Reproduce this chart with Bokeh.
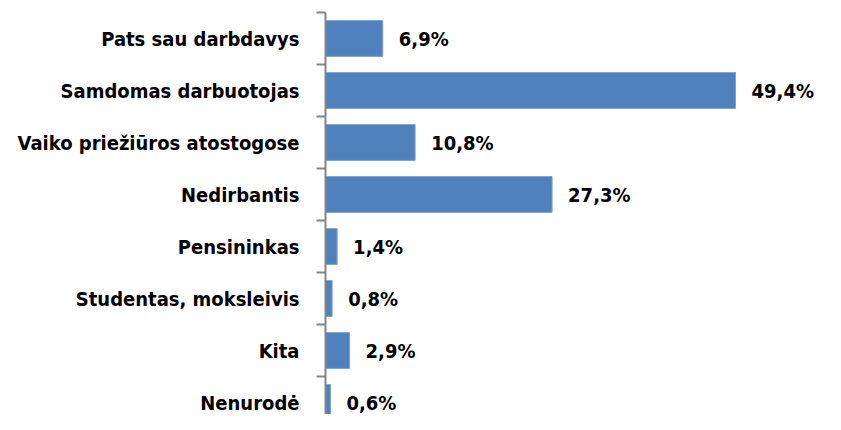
from bokeh.plotting import figure
from bokeh.models import FixedTicker, Range1d, ColumnDataSource
from bokeh.core.properties import value
from bokeh.embed import file_html
from bokeh.resources import INLINE

categories = ["Pats sau darbdavys", "Samdomas darbuotojas", "Vaiko priežiūros atostogose",
              "Nedirbantis", "Pensininkas", "Studentas, moksleivis", "Kita", "Nenurodė"]
values = [6.9, 49.4, 10.8, 27.3, 1.4, 0.8, 2.9, 0.6]

pos = list(range(len(categories)))
labels = [f"{v:.1f}".replace(".", ",") + "%" for v in values]
src = ColumnDataSource(dict(y=pos, v=values, lab=labels))

FONT = "DejaVu Sans Condensed"
W, H = 825, 414
LEFT, TOP = 325, 12
XMAX = (W - LEFT) / 8.3
YEND = (H - TOP) / 52.0 - 0.5
p = figure(width=W, height=H, output_backend="svg", toolbar_location=None,
           x_range=Range1d(0, XMAX), y_range=Range1d(YEND, -0.5),
           min_border_left=LEFT, min_border_top=TOP, min_border_right=0, min_border_bottom=0)
p.outline_line_color = None
p.xgrid.visible = False
p.ygrid.visible = False
p.xaxis.visible = False

p.hbar(y="y", right="v", left=0, height=0.69, source=src,
       fill_color="#4F81BD", line_color="#7FA3D0", line_width=1)
p.text(x="v", y="y", text="lab", source=src, x_offset=16,
       text_baseline="middle", text_align="left",
       text_font=value(FONT), text_font_style="bold", text_font_size="20px", text_color="#000000")

ya = p.yaxis[0]
ya.ticker = FixedTicker(ticks=pos, minor_ticks=[i - 0.5 for i in range(len(categories) + 1)])
ya.major_label_overrides = {i: c for i, c in enumerate(categories)}
ya.major_tick_line_color = None
ya.major_tick_out = 0
ya.major_tick_in = 0
ya.minor_tick_out = 9
ya.minor_tick_in = 0
ya.minor_tick_line_color = "#868686"
ya.minor_tick_line_width = 2
ya.axis_line_color = "#868686"
ya.axis_line_width = 2
ya.major_label_standoff = 17
ya.major_label_text_font = FONT
ya.major_label_text_font_style = "bold"
ya.major_label_text_font_size = "20px"
ya.major_label_text_color = "#000000"

open("out.html", "w").write(file_html(p, INLINE))
